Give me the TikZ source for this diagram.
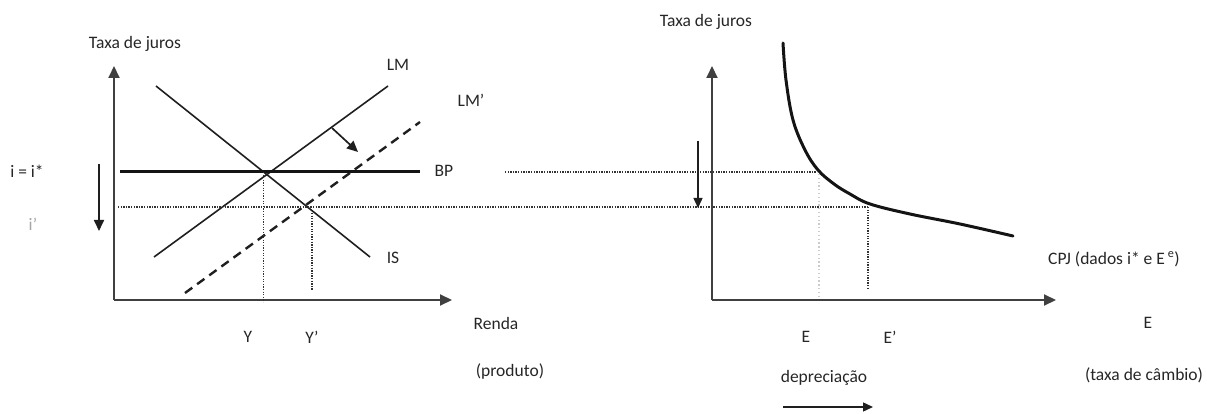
\documentclass[tikz,border=0pt]{standalone}
\usepackage{fontspec}
\setmainfont{Carlito}
\usetikzlibrary{arrows.meta,intersections}
\begin{document}
\begin{tikzpicture}[x=1pt,y=-1pt,
  lbl/.style={font=\fontsize{17.5}{19}\selectfont, text=black!85, inner sep=0pt},
  axis/.style={line width=2pt, draw=black!75, -{Triangle[length=12pt,width=11pt]}},
  curveln/.style={line width=1.6pt, draw=black!88},
  thick3/.style={line width=3pt, draw=black!92},
  dashln/.style={line width=2.4pt, draw=black!88, dash pattern=on 9pt off 6pt},
  dotln/.style={line width=1.4pt, draw=black!80, dash pattern=on 1.3pt off 1.3pt},
  lightdot/.style={line width=1.3pt, draw=black!20, dash pattern=on 1.3pt off 2.5pt},
  shiftarr/.style={line width=1.7pt, draw=black!88, -{Triangle[length=11pt,width=10pt]}},
  thinarr/.style={line width=1.4pt, draw=black!88, -{Triangle[length=10pt,width=9pt]}}
]
\useasboundingbox (0,0) rectangle (1207,414);
% ---------- left graph ----------
\coordinate (O1) at (114,300);
\coordinate (Y1) at (114,66);
\coordinate (X1) at (452,300);
\draw[axis] (O1) -- (Y1);
\draw[axis] (O1) -- (X1);
\coordinate (lmA) at (154,257);
\coordinate (lmB) at (388,86);
\coordinate (isA) at (156,86);
\coordinate (isB) at (370,257);
\coordinate (lmpA) at (185,293);
\coordinate (lmpB) at (420,122);
\coordinate (bpA) at (120,172);
\coordinate (bpB) at (420,172);
\draw[curveln, name path=LM] (lmA) -- (lmB);
\draw[curveln, name path=IS] (isA) -- (isB);
\draw[dashln, name path=LMp] (lmpA) -- (lmpB);
\draw[thick3, name path=BP] (bpA) -- (bpB);
\path[name intersections={of=IS and BP, by=P1}];
% dotted lines
\coordinate (lowL) at (118,207);
\coordinate (lowR) at (868,207);
\draw[dotln] (lowL) -- (lowR);
\coordinate (P1b) at (P1 |- O1);
\draw[dotln] (P1) -- ([yshift=-2pt]P1b);
\coordinate (P2t) at (312,213);
\coordinate (P2b) at (312,290);
\draw[dotln] (P2t) -- (P2b);
% shift arrow on LM
\coordinate (sA) at (332,128);
\coordinate (sB) at (358,152);
\draw[shiftarr] (sA) -- (sB);
% rate fall arrow
\coordinate (dA) at (99,164);
\coordinate (dB) at (99,231);
\draw[shiftarr] (dA) -- (dB);
% labels
\node[lbl] (tj1) at (135,44) {Taxa de juros};
\node[lbl] (lLM) at (398,65) {LM};
\node[lbl] (lLMp) at (471,100) {LM'};
\node[lbl] (lBP) at (444,171) {BP};
\node[lbl] (lIS) at (393,258) {IS};
\node[lbl] (li) at (27,171) {i = i*};
\node[lbl, text=black!35] (lip) at (33,224) {i'};
\node[lbl] (lY) at (248,337) {Y};
\node[lbl] (lYp) at (312,337) {Y'};
\node[lbl] (lR) at (496,323) {Renda};
\node[lbl] (lprod) at (510,372) {(produto)};
% ---------- right graph ----------
\coordinate (O2) at (712,300);
\coordinate (Y2) at (712,66);
\coordinate (X2) at (1056,300);
\draw[axis] (O2) -- (Y2);
\draw[axis] (O2) -- (X2);
\draw[line width=3pt, draw=black!92, line cap=round] plot[smooth, tension=0.6] coordinates
  {(783,43) (786,80) (793,120) (805,150) (818,170) (834,184) (850,194) (870,204) (910,214) (960,224) (1013,236)};
\coordinate (upL) at (505,172);
\coordinate (upR) at (817,172);
\draw[dotln] (upL) -- (upR);
\coordinate (vE1) at (819,174);
\coordinate (vE2) at (819,298);
\draw[lightdot] (vE1) -- (vE2);
\coordinate (vF1) at (868,207);
\coordinate (vF2) at (868,288);
\draw[dotln] (vF1) -- (vF2);
\coordinate (rA) at (698,141);
\coordinate (rB) at (698,208);
\draw[thinarr] (rA) -- (rB);
\node[lbl] (tj2) at (706,22) {Taxa de juros};
\node[lbl] (lE) at (806,337) {E};
\node[lbl] (lEp) at (890,337) {E'};
\node[lbl] (lCPJ) at (1114,259) {CPJ (dados i* e E\,\textsuperscript{e})};
\node[lbl] (lE2) at (1148,323) {E};
\node[lbl] (ltc) at (1144,375) {(taxa de câmbio)};
\node[lbl] (ldep) at (824,378) {depreciação};
\coordinate (depA) at (783,407);
\coordinate (depB) at (873,407);
\draw[thinarr] (depA) -- (depB);
\end{tikzpicture}
\end{document}
